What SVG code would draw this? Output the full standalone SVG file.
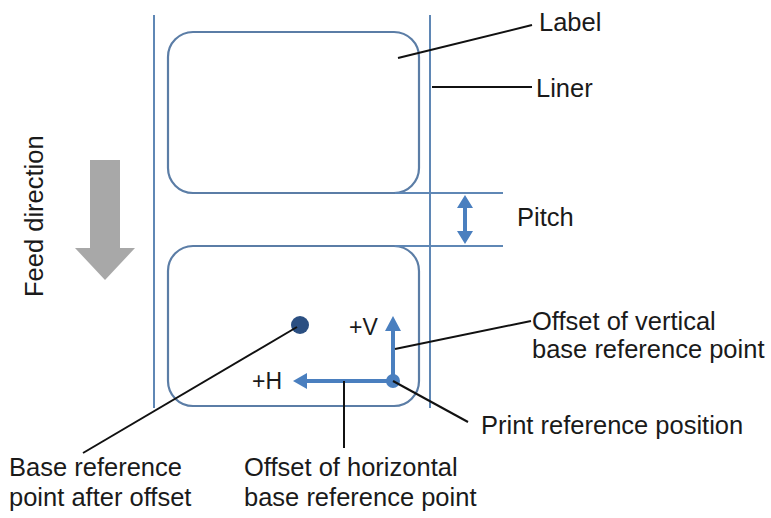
<svg xmlns="http://www.w3.org/2000/svg" width="771" height="518" viewBox="0 0 771 518">
<style>
text{font-family:"Liberation Sans",Arial,sans-serif;font-size:25.5px;fill:#1a1a1a}
.small{font-size:23px}
.liner{stroke:#5f87b5;stroke-width:2;fill:none}
.lbl{stroke:#5b7da6;stroke-width:2.2;fill:none}
.lead{stroke:#111;stroke-width:2;fill:none}
.blue{stroke:#4a7fbf;stroke-width:4;fill:none}
</style>
<rect width="771" height="518" fill="#fff"/>
<g id="liner">
<line class="liner" x1="154" y1="15" x2="154" y2="408"/>
<line class="liner" x1="430" y1="15" x2="430" y2="408"/>
</g>
<g id="label-top">
<rect class="lbl" x="168" y="32" width="251" height="161" rx="25"/>
</g>
<g id="label-bottom">
<rect class="lbl" x="168" y="246" width="251" height="160" rx="25"/>
</g>
<g id="pitch">
<line class="liner" x1="395" y1="193" x2="503" y2="193"/>
<line class="liner" x1="395" y1="246" x2="503" y2="246"/>
<line stroke="#4a7fbf" stroke-width="4" x1="465" y1="205" x2="465" y2="233"/>
<path d="M465,195 L473,208 L457,208 Z M465,244 L473,231 L457,231 Z" fill="#4a7fbf"/>
<text x="517" y="226">Pitch</text>
</g>
<g id="feed">
<path d="M90,160 L120,160 L120,248 L135,248 L105,280 L75,248 L90,248 Z" fill="#a8a8a8"/>
<text transform="translate(43,297) rotate(-90)">Feed direction</text>
</g>
<g id="offsets">
<line class="blue" x1="393" y1="381" x2="307" y2="381"/>
<path d="M293,381 L307,373 L307,389 Z" fill="#4a7fbf"/>
<line class="blue" x1="393" y1="381" x2="393" y2="330"/>
<path d="M393,316 L401,331 L385,331 Z" fill="#4a7fbf"/>
<circle cx="393" cy="381" r="7" fill="#4a7fbf"/>
<text class="small" x="349" y="335">+V</text>
<text class="small" x="252" y="389">+H</text>
</g>
<g id="base-point">
<circle cx="300" cy="325" r="9" fill="#2b4f82"/>
</g>
<g id="connectors">
<line class="lead" x1="398" y1="58" x2="532" y2="25"/>
<line class="lead" x1="432" y1="87" x2="532" y2="87"/>
<line class="lead" x1="297" y1="327" x2="83" y2="453"/>
<line class="lead" x1="344" y1="381" x2="344" y2="448"/>
<line class="lead" x1="395" y1="349" x2="531" y2="321"/>
<line class="lead" x1="393" y1="381" x2="468" y2="422"/>
</g>
<g id="texts">
<text x="539" y="31">Label</text>
<text x="536" y="97">Liner</text>
<text x="532" y="330">Offset of vertical</text>
<text x="532" y="358">base reference point</text>
<text x="481" y="434">Print reference position</text>
<text x="9" y="476">Base reference</text>
<text x="9" y="506">point after offset</text>
<text x="244" y="476">Offset of horizontal</text>
<text x="244" y="506">base reference point</text>
</g>
</svg>
